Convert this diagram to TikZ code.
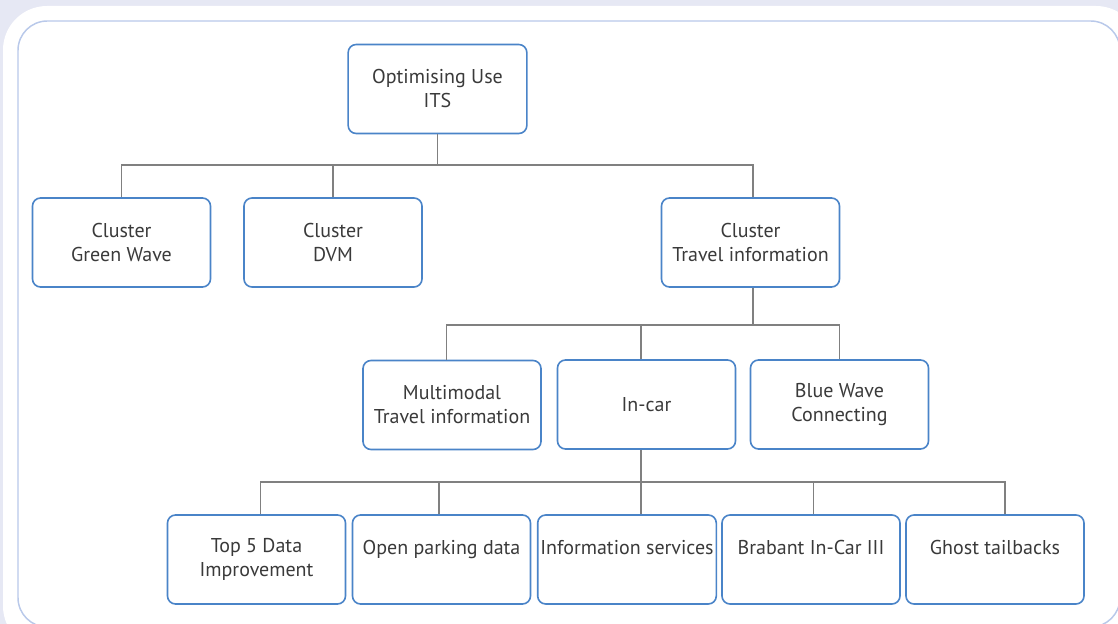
\documentclass[tikz,border=0pt]{standalone}
\usepackage{fontspec}
\setmainfont{PT Sans}
\usetikzlibrary{calc}
\definecolor{pagebg}{HTML}{E6E8F4}
\definecolor{framecol}{HTML}{B9C9EA}
\definecolor{boxedge}{HTML}{4A84C8}
\definecolor{linkcol}{HTML}{808080}
\definecolor{textcol}{HTML}{3A3A3A}
\tikzset{
  orgbox/.style={draw=boxedge, fill=white, line width=1.2pt, rounded corners=6pt,
    minimum width=133.5pt, minimum height=66.75pt, align=center,
    text=textcol, font=\fontsize{15pt}{18pt}\selectfont, inner sep=2pt},
  topalign/.style={anchor=north, text height=15pt, text depth=0pt},
  link/.style={draw=linkcol, line width=1.1pt}
}
\begin{document}
\begin{tikzpicture}[x=0.75pt,y=-0.75pt]
  \useasboundingbox (0,0) rectangle (1118,624);
  \clip (0,0) rectangle (1118,624);
  % page background and panel
  \fill[pagebg] (0,0) rectangle (1118,624);
  \fill[white, rounded corners=33pt] (3,6) rectangle (1140,650);
  \draw[framecol, line width=1.1pt, rounded corners=22pt] (18,21) rectangle (1120,627);

  % level 0
  \node[orgbox, minimum width=134pt] (top) at (437.5,89) {Optimising Use\\ITS};
  % level 1
  \node[orgbox] (gw)  at (121.5,242.5) {Cluster\\Green Wave};
  \node[orgbox] (dvm) at (333,242.5)   {Cluster\\DVM};
  \node[orgbox] (ti)  at (750.5,242.5) {Cluster\\Travel information};
  % level 2
  \node[orgbox] (mm) at (452,405)    {Multimodal\\Travel information};
  \node[orgbox] (ic) at (646.5,404.5) {In-car};
  \node[orgbox] (bw) at (839.5,404.5) {Blue Wave\\Connecting};
  % level 3
  \node[orgbox] (t5) at (256.5,559.5) {Top 5 Data\\Improvement};
  \node[orgbox] (op) at (441.5,559.5) {Open parking data\\\mbox{}};
  \node[orgbox] (is) at (627,559.5)   {Information services\\\mbox{}};
  \node[orgbox] (bb) at (811,559.5)   {Brabant In-Car III\\\mbox{}};
  \node[orgbox] (gt) at (995,559.5)   {Ghost tailbacks\\\mbox{}};

  % bus lines
  \coordinate (busA) at (0,165);
  \coordinate (busB) at (0,325);
  \coordinate (busC) at (0,482);

  \draw[link] (top.south) -- (top.south |- busA);
  \draw[link] (gw.north) -- (gw.north |- busA) -- ([xshift=2pt]ti.north |- busA) -- ([xshift=2pt]ti.north);
  \draw[link] (dvm.north) -- (dvm.north |- busA);

  \draw[link] ([xshift=2pt]ti.south) -- ([xshift=2pt]ti.south |- busB);
  \draw[link] ([xshift=-4pt]mm.north) -- ([xshift=-4pt]mm.north |- busB) -- (bw.north |- busB) -- (bw.north);
  \draw[link] ([xshift=-4pt]ic.north) -- ([xshift=-4pt]ic.north |- busB);

  \draw[link] ([xshift=-4pt]ic.south) -- ([xshift=-4pt]ic.south |- is.north);
  \draw[link] ([xshift=3pt]t5.north) -- ([xshift=3pt]t5.north |- busC) -- ([xshift=7.5pt]gt.north |- busC) -- ([xshift=7.5pt]gt.north);
  \draw[link] ([xshift=-2pt]op.north) -- ([xshift=-2pt]op.north |- busC);
  \draw[link] ([xshift=2pt]bb.north) -- ([xshift=2pt]bb.north |- busC);
\end{tikzpicture}
\end{document}
